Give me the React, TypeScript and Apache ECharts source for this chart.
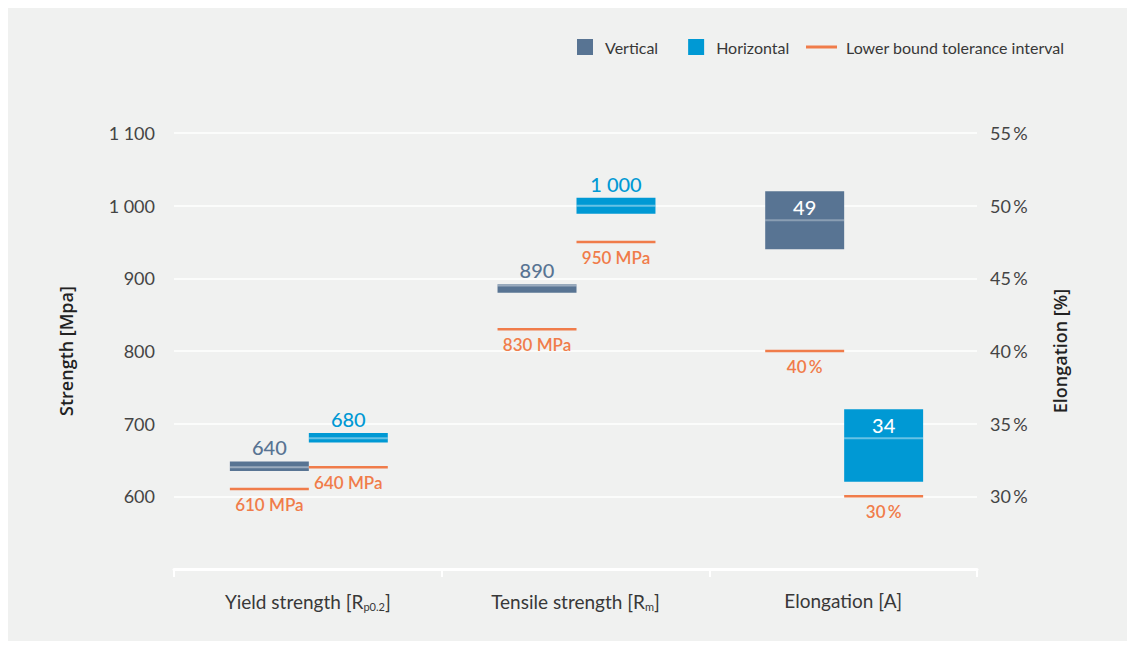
import React, { useEffect, useRef } from "react";
import * as echarts from "echarts";

const categories = ["Yield strength", "Tensile strength", "Elongation"];
const categoryLabels = ["Yield strength [R{sub|p0.2}]", "Tensile strength [R{sub|m}]", "Elongation [A]"];

// strength categories (left axis, MPa): [categoryIndex, min, value, max]
const verticalStrength = [
  [0, 635, 640, 648],
  [1, 880, 890, 892],
];
const horizontalStrength = [
  [0, 674, 680, 687],
  [1, 989, 1000, 1011],
];
// elongation (right axis, %)
const verticalElongation = [[2, 47, 49, 51]];
const horizontalElongation = [[2, 31, 34, 36]];

// lower bound tolerance interval: [categoryIndex, value]
const lowerVerticalStrength = [[0, 610], [1, 830]];
const lowerHorizontalStrength = [[0, 640], [1, 950]];
const lowerVerticalElongation = [[2, 40]];
const lowerHorizontalElongation = [[2, 30]];

const strengthTicks = { min: 500, max: 1100, interval: 100 };
const elongationTicks = { min: 25, max: 55, interval: 5 };

const BG = "#f0f1f0";
const C_VERT = "#587493";
const C_HOR = "#0099d4";
const C_ORANGE = "#f07c4a";
const TXT = "#383838";
const NUM_FONT = "Lato, 'Noto Sans', sans-serif";

function fmtThousands(v: number): string {
  const s = String(Math.round(v));
  if (s.length > 3) return s.slice(0, s.length - 3) + " " + s.slice(s.length - 3);
  return s;
}

function bandRenderer(side: number, inside: boolean, fill: string, midLine: string, labelColor: string) {
  return (params: any, api: any) => {
    const cat = api.value(0);
    const lo = api.value(1);
    const val = api.value(2);
    const hi = api.value(3);
    const pLo = api.coord([cat, lo]);
    const pHi = api.coord([cat, hi]);
    const pVal = api.coord([cat, val]);
    const catW = api.size([1, 0])[0];
    const bw = catW * 0.295;
    const x0 = pVal[0] + 1 + (side < 0 ? -bw : 0);
    return {
      type: "group",
      children: [
        { type: "rect", shape: { x: x0, y: pHi[1], width: bw, height: pLo[1] - pHi[1] }, style: { fill } },
        { type: "line", shape: { x1: x0, y1: pVal[1], x2: x0 + bw, y2: pVal[1] }, style: { stroke: midLine, lineWidth: 2 } },
        {
          type: "text",
          x: x0 + bw / 2,
          y: inside ? pHi[1] + 16 : pHi[1] - 14,
          style: {
            text: fmtThousands(val),
            fill: labelColor,
            font: `500 20px ${NUM_FONT}`,
            align: "center",
            verticalAlign: "middle",
          },
        },
      ],
    };
  };
}

function lowerRenderer(side: number, unit: string) {
  return (params: any, api: any) => {
    const cat = api.value(0);
    const val = api.value(1);
    const p = api.coord([cat, val]);
    const catW = api.size([1, 0])[0];
    const bw = catW * 0.295;
    const x0 = p[0] + 1 + (side < 0 ? -bw : 0);
    return {
      type: "group",
      children: [
        { type: "line", shape: { x1: x0, y1: p[1], x2: x0 + bw, y2: p[1] }, style: { stroke: C_ORANGE, lineWidth: 2.5 } },
        {
          type: "text",
          x: x0 + bw / 2,
          y: p[1] + 15,
          style: {
            text: fmtThousands(val) + unit,
            fill: C_ORANGE,
            font: `600 17px ${NUM_FONT}`,
            align: "center",
            verticalAlign: "middle",
          },
        },
      ],
    };
  };
}

export default function App() {
  const ref = useRef<HTMLDivElement>(null);
  useEffect(() => {
    if (!ref.current) return;
    const chart = echarts.init(ref.current, null, { renderer: "svg" });
    const mkBand = (name: string, data: number[][], yAxisIndex: number, side: number, inside: boolean, color: string, mid: string, lab: string) => ({
      type: "custom",
      name,
      yAxisIndex,
      data,
      itemStyle: { color },
      encode: { x: 0, y: [1, 2, 3] },
      renderItem: bandRenderer(side, inside, color, mid, lab),
    });
    const mkLower = (data: number[][], yAxisIndex: number, side: number, unit: string) => ({
      type: "custom",
      name: "Lower bound tolerance interval",
      yAxisIndex,
      data,
      itemStyle: { color: C_ORANGE },
      encode: { x: 0, y: 1 },
      renderItem: lowerRenderer(side, unit),
    });
    chart.setOption({
      animation: false,
      backgroundColor: BG,
      textStyle: { fontFamily: NUM_FONT },
      legend: [
        {
          left: 569,
          top: 31,
          padding: 0,
          itemWidth: 16,
          itemHeight: 16,
          itemGap: 30,
          selectedMode: false,
          data: [
            { name: "Vertical", icon: "rect" },
            { name: "Horizontal", icon: "rect" },
          ],
          textStyle: { color: TXT, fontSize: 16, fontFamily: "Lato, sans-serif", padding: [0, 0, 0, 7] },
        },
        {
          left: 798,
          top: 31,
          padding: 0,
          itemWidth: 31,
          itemHeight: 3,
          selectedMode: false,
          data: [{ name: "Lower bound tolerance interval", icon: "rect" }],
          textStyle: { color: TXT, fontSize: 16, fontFamily: "Lato, sans-serif", padding: [0, 0, 0, 4] },
        },
      ],
      grid: { left: 166, right: 150, top: 125, bottom: 72 },
      xAxis: {
        type: "category",
        data: categories,
        boundaryGap: true,
        axisLine: { lineStyle: { color: "#ffffff", width: 3 } },
        axisTick: { show: true, interval: 0, length: 8, lineStyle: { color: "#ffffff", width: 2 } },
        axisLabel: {
          interval: 0,
          margin: 22,
          color: TXT,
          fontSize: 19,
          fontFamily: "Lato, sans-serif",
          formatter: (v: string) => categoryLabels[categories.indexOf(v)],
          rich: {
            sub: { fontSize: 11, color: TXT, fontFamily: "Lato, sans-serif", padding: [10, 0, 0, 0] },
          },
        },
      },
      yAxis: [
        {
          type: "value",
          ...strengthTicks,
          name: "Strength [Mpa]",
          nameLocation: "middle",
          nameRotate: 90,
          nameGap: 99,
          nameTextStyle: { color: "#222", fontSize: 18, fontWeight: 600, fontFamily: "'Open Sans', sans-serif" },
          axisLine: { show: false },
          axisTick: { show: false },
          splitLine: { lineStyle: { color: "#ffffff", width: 1.5 } },
          axisLabel: {
            margin: 19,
            color: "#444",
            fontSize: 18,
            fontFamily: NUM_FONT,
            showMinLabel: false,
            formatter: (v: number) => fmtThousands(v),
          },
        },
        {
          type: "value",
          ...elongationTicks,
          name: "Elongation [%]",
          nameLocation: "middle",
          nameRotate: 90,
          nameGap: 74,
          nameTextStyle: { color: "#222", fontSize: 18, fontWeight: 600, fontFamily: "'Open Sans', sans-serif" },
          axisLine: { show: false },
          axisTick: { show: false },
          splitLine: { show: false },
          axisLabel: {
            margin: 13,
            color: "#444",
            fontSize: 18,
            fontFamily: NUM_FONT,
            showMinLabel: false,
            formatter: (v: number) => v + "\u2009%",
          },
        },
      ],
      series: [
        mkBand("Vertical", verticalStrength, 0, -1, false, C_VERT, "rgba(255,255,255,0.4)", C_VERT),
        mkBand("Horizontal", horizontalStrength, 0, 1, false, C_HOR, "rgba(255,255,255,0.4)", C_HOR),
        mkBand("Vertical", verticalElongation, 1, -1, true, C_VERT, "rgba(255,255,255,0.3)", "#ffffff"),
        mkBand("Horizontal", horizontalElongation, 1, 1, true, C_HOR, "rgba(255,255,255,0.4)", "#ffffff"),
        mkLower(lowerVerticalStrength, 0, -1, " MPa"),
        mkLower(lowerHorizontalStrength, 0, 1, " MPa"),
        mkLower(lowerVerticalElongation, 1, -1, "\u2009%"),
        mkLower(lowerHorizontalElongation, 1, 1, "\u2009%"),
      ],
    });
    return () => chart.dispose();
  }, []);
  return <div ref={ref} style={{ width: 1119, height: 633, background: BG }} />;
}
